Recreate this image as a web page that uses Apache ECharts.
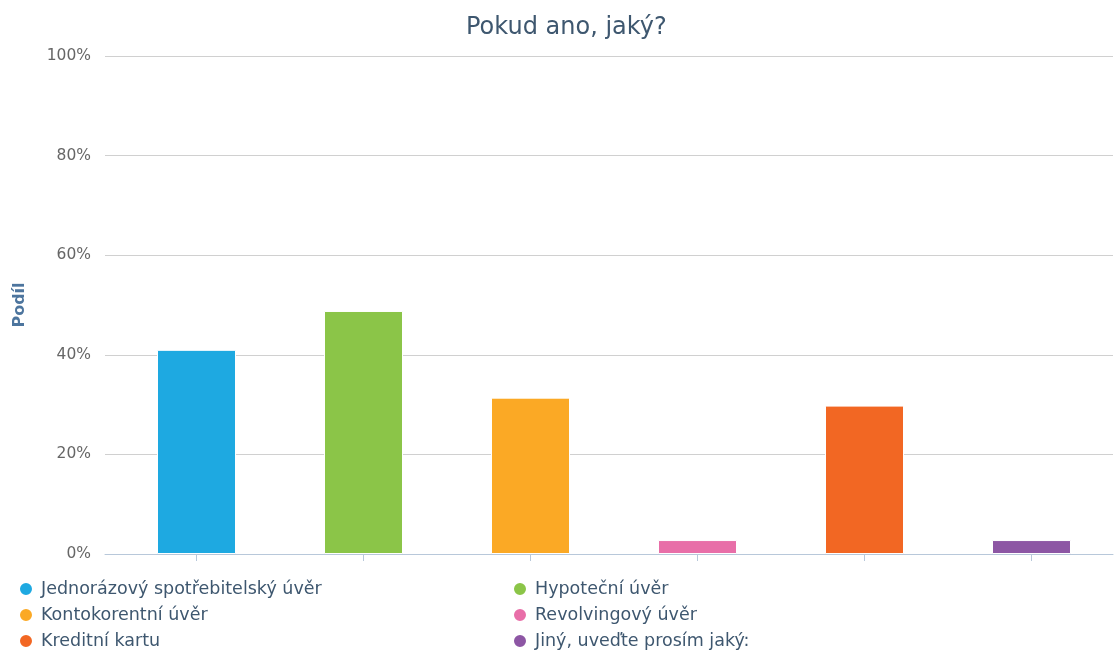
<!DOCTYPE html>
<html>
<head>
<meta charset="utf-8">
<script src="https://cdn.jsdelivr.net/npm/echarts@6/dist/echarts.min.js"></script>
<style>html,body{margin:0;padding:0;background:#fff;}#c{width:1115px;height:652px;}</style>
</head>
<body>
<div id="c"></div>
<script>
const categories = ['Jednorázový spotřebitelský úvěr', 'Hypoteční úvěr', 'Kontokorentní úvěr', 'Revolvingový úvěr', 'Kreditní kartu', 'Jiný, uveďte prosím jaký:'];
const values = [41.0, 48.8, 31.4, 2.8, 29.8, 2.8];
const colors = ['#1EA9E1', '#8BC548', '#FBA925', '#E86EA8', '#F26723', '#8D56A4'];
const yTicks = [0, 20, 40, 60, 80, 100];
const titleText = 'Pokud ano, jaký?';
const yName = 'Podíl';

const FONT = 'DejaVu Sans';
const chart = echarts.init(document.getElementById('c'), null, {renderer: 'canvas'});

const series = categories.map((name, i) => ({
  name: name,
  type: 'bar',
  xAxisIndex: 0,
  yAxisIndex: 0,
  barWidth: 79,
  barGap: '-100%',
  itemStyle: {color: colors[i], borderColor: '#ffffff', borderWidth: 1},
  data: categories.map((c, j) => j === i ? values[i] : '-')
}));

const legendBase = {
  orient: 'vertical',
  icon: 'circle',
  itemWidth: 14,
  itemHeight: 14,
  itemGap: 8,
  top: 575,
  height: 90,
  textStyle: {fontFamily: FONT, fontSize: 17.5, color: '#3E576F', lineHeight: 18, padding: [0, 0, 0, 3]}
};

chart.setOption({
  animation: false,
  color: colors,
  title: {
    text: titleText,
    left: 461,
    top: 11,
    textStyle: {fontFamily: FONT, fontSize: 24, fontWeight: 'normal', color: '#3E576F'}
  },
  legend: [
    Object.assign({}, legendBase, {left: 13, width: 450, data: [categories[0], categories[2], categories[4]]}),
    Object.assign({}, legendBase, {left: 507, width: 450, data: [categories[1], categories[3], categories[5]]})
  ],
  grid: [
    {left: 113, width: 1005, top: 56, height: 498},
    {left: 105, width: 1008, top: 56, height: 498}
  ],
  xAxis: [
    {
      gridIndex: 0, type: 'category', data: categories,
      axisLine: {show: false},
      axisTick: {show: true, alignWithLabel: true, interval: 0, length: 7, lineStyle: {color: '#B8C8DA'}},
      axisLabel: {show: false, interval: 0},
      splitLine: {show: false}
    },
    {
      gridIndex: 1, type: 'value', min: 0, max: 1,
      axisLine: {show: true, lineStyle: {color: '#B8C8DA', width: 1}},
      axisTick: {show: false}, axisLabel: {show: false}, splitLine: {show: false}
    }
  ],
  yAxis: [
    {gridIndex: 0, type: 'value', min: yTicks[0], max: yTicks[yTicks.length - 1], interval: 20, show: false},
    {
      gridIndex: 1, type: 'value', min: yTicks[0], max: yTicks[yTicks.length - 1], interval: 20,
      name: yName, nameLocation: 'middle', nameGap: 77, nameRotate: 90,
      nameTextStyle: {fontFamily: FONT, fontSize: 16, fontWeight: 'bold', color: '#4D759E'},
      axisLine: {show: false}, axisTick: {show: false},
      axisLabel: {formatter: '{value}%', margin: 14, fontFamily: FONT, fontSize: 15.5, color: '#666666'},
      splitLine: {show: true, lineStyle: {color: '#D0D0D0', width: 1}}
    }
  ],
  series: series
});
</script>
</body>
</html>
